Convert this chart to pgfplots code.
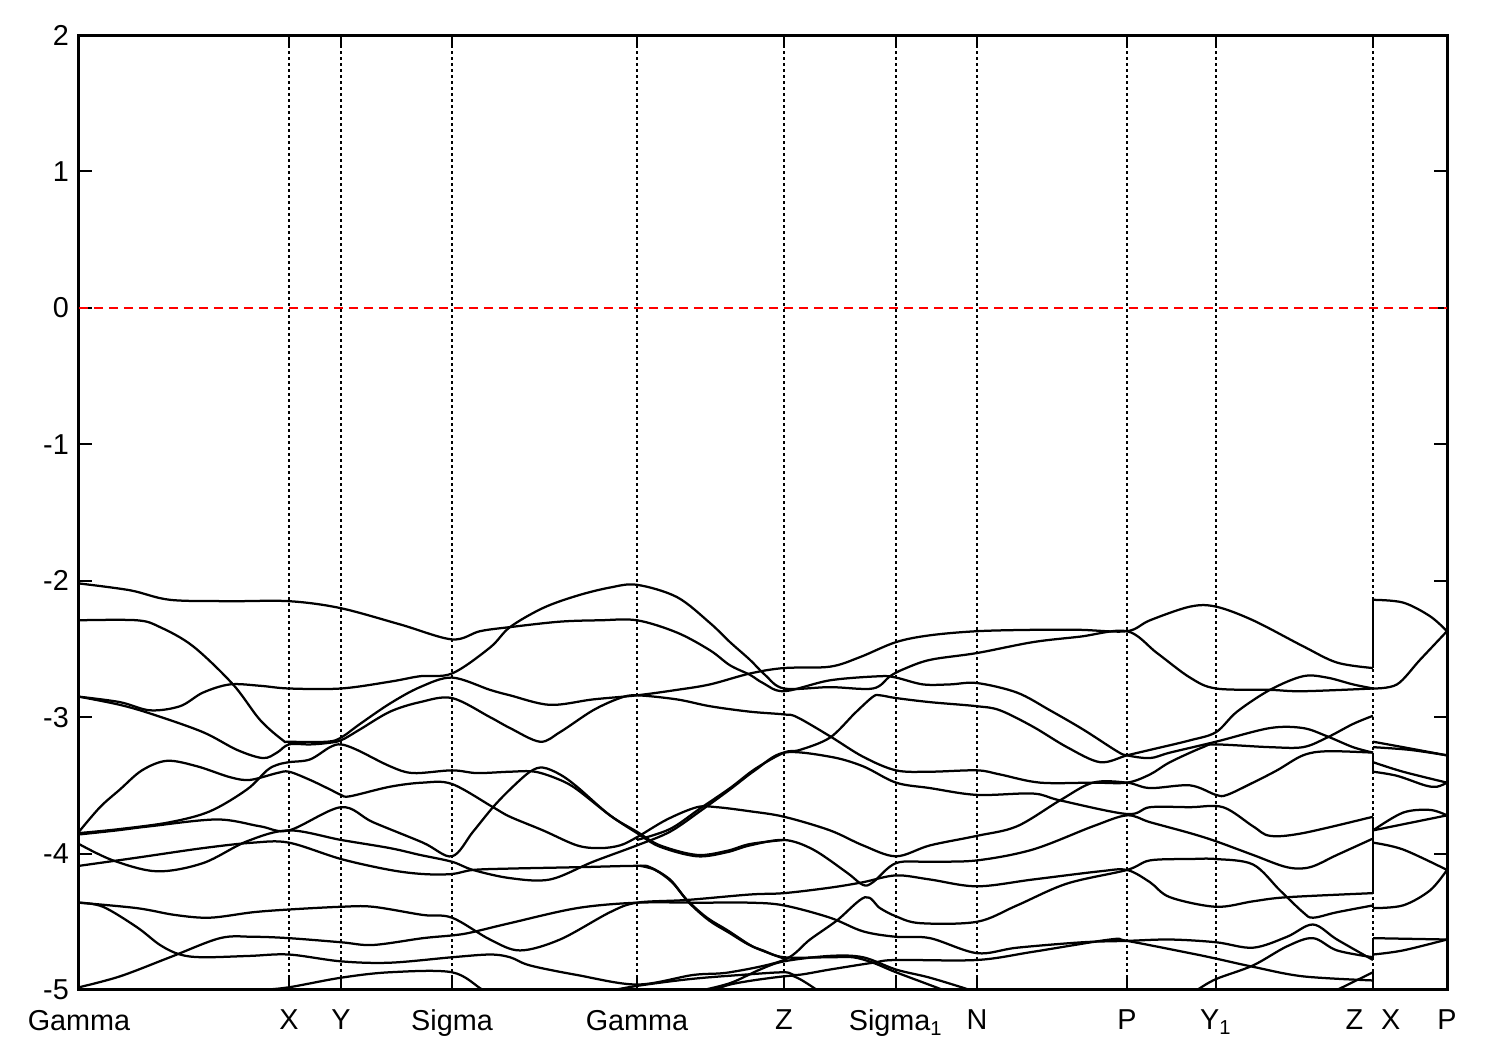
\documentclass[border=0pt]{standalone}
\usepackage{fontspec}
\setmainfont{Liberation Sans}
\usepackage{pgfplots}
\pgfplotsset{compat=1.18}
\pgfplotsset{band/.style={black, solid, line width=0.75pt, mark=none, line join=round, smooth, tension=0.55}}
\begin{document}
\fontsize{9.6}{11.5}\selectfont
\begin{tikzpicture}
\useasboundingbox (0,0) rectangle (500pt,350pt);
\begin{axis}[
  at={(26.33pt,20pt)}, anchor=south west,
  scale only axis, width=456pt, height=318.33pt,
  xmin=79, xmax=1447, ymin=-5, ymax=2,
  xtick={79,289,341,452,637,784,896,977,1127,1216,1373,1447},
  xticklabels={Gamma,X,Y,Sigma,Gamma,Z,Sigma\textsubscript{1},N,P,Y\textsubscript{1},Z\hspace{6pt}X,P},
  ytick={-5,-4,-3,-2,-1,0,1,2},
  yticklabels={-5,-4,-3,-2,-1,0,1,2},
  tick align=inside, tick pos=both, major tick length=4.4pt,
  xmajorgrids,
  major x grid style={black, line width=0.35pt, dash pattern=on 1pt off 1pt},
  axis line style={line width=1pt},
  every tick/.style={black, line width=0.7pt},
  tick label style={font=\fontsize{9.6}{11.5}\selectfont},
  xticklabel style={yshift=-3.3pt},
]
\addplot[red, line width=0.5pt, dash pattern=on 3pt off 2pt, mark=none] coordinates {(79,0)(1447,0)};
% Band A
\addplot[band] coordinates {(79,-2.02) (130,-2.07) (170,-2.14) (230,-2.15) (289,-2.15) (340,-2.20) (400,-2.32) (452,-2.43) (480,-2.37) (510,-2.34) (560,-2.30) (600,-2.29) (637,-2.29) (677,-2.38) (710,-2.51) (730,-2.62) (750,-2.69) (763,-2.75) (784,-2.81) (830,-2.73) (880,-2.70) (896,-2.71) (923,-2.76) (950,-2.76) (977,-2.75) (1017,-2.82) (1050,-2.95) (1083,-3.09) (1117,-3.25) (1127,-3.28) (1150,-3.30) (1170,-3.26) (1216,-3.18) (1270,-3.08) (1303,-3.08) (1327,-3.14) (1353,-3.22) (1373,-3.26)};
% Band B
\addplot[band] coordinates {(79,-2.29) (137,-2.29) (160,-2.34) (193,-2.48) (233,-2.76) (260,-3.02) (283,-3.17) (289,-3.18) (327,-3.18) (341,-3.15) (360,-3.05) (390,-2.90) (420,-2.78) (452,-2.71) (490,-2.80) (510,-2.84) (550,-2.91) (593,-2.87) (637,-2.84) (677,-2.80) (710,-2.76) (750,-2.68) (784,-2.64) (830,-2.63) (860,-2.56) (896,-2.45) (930,-2.40) (977,-2.37) (1033,-2.36) (1080,-2.36) (1127,-2.37) (1150,-2.29) (1190,-2.19) (1216,-2.19) (1253,-2.29) (1303,-2.48) (1337,-2.60) (1373,-2.64)};
% Band C
\addplot[band] coordinates {(79,-2.85) (120,-2.89) (150,-2.95) (180,-2.92) (203,-2.82) (230,-2.76) (260,-2.77) (289,-2.79) (341,-2.79) (390,-2.74) (420,-2.70) (452,-2.68) (490,-2.49) (510,-2.34) (543,-2.20) (577,-2.11) (610,-2.05) (637,-2.03) (677,-2.12) (710,-2.31) (730,-2.45) (750,-2.58) (765,-2.69) (784,-2.79) (830,-2.78) (873,-2.79) (890,-2.70) (903,-2.65) (930,-2.58) (977,-2.53) (1033,-2.45) (1080,-2.41) (1127,-2.37) (1157,-2.53) (1190,-2.71) (1216,-2.79) (1270,-2.80) (1303,-2.81) (1373,-2.79)};
% Band D
\addplot[band] coordinates {(79,-2.85) (120,-2.91) (153,-2.98) (203,-3.11) (237,-3.24) (263,-3.30) (277,-3.26) (289,-3.20) (310,-3.20) (327,-3.19) (341,-3.17) (360,-3.09) (390,-2.96) (420,-2.89) (452,-2.86) (490,-3.00) (510,-3.08) (540,-3.18) (560,-3.11) (593,-2.95) (620,-2.86) (637,-2.84) (677,-2.87) (710,-2.92) (750,-2.96) (784,-2.98) (797,-3.00) (830,-3.14) (863,-3.29) (896,-3.39) (930,-3.40) (977,-3.39) (1000,-3.42) (1040,-3.48) (1093,-3.48) (1127,-3.48) (1150,-3.42) (1170,-3.33) (1203,-3.22) (1216,-3.20) (1270,-3.22) (1303,-3.22) (1327,-3.15) (1353,-3.05) (1373,-2.99)};
% Band E
\addplot[band] coordinates {(79,-3.84) (100,-3.66) (120,-3.53) (142,-3.39) (167,-3.32) (197,-3.36) (230,-3.44) (250,-3.46) (277,-3.41) (289,-3.40) (310,-3.46) (330,-3.53) (341,-3.57) (350,-3.58) (390,-3.51) (423,-3.48) (452,-3.49) (493,-3.66) (510,-3.73) (543,-3.83) (577,-3.94) (600,-3.96) (620,-3.94) (637,-3.88) (667,-3.75) (697,-3.66) (717,-3.66) (750,-3.69) (784,-3.73) (830,-3.83) (863,-3.94) (896,-4.02) (930,-3.94) (977,-3.87) (1017,-3.80) (1060,-3.61) (1093,-3.48) (1127,-3.48) (1150,-3.52) (1190,-3.50) (1216,-3.57) (1227,-3.57) (1253,-3.48) (1277,-3.39) (1303,-3.28) (1327,-3.25) (1373,-3.26)};
% Band F
\addplot[band] coordinates {(79,-3.85) (120,-3.82) (170,-3.77) (210,-3.69) (247,-3.53) (267,-3.39) (277,-3.35) (289,-3.33) (310,-3.31) (330,-3.22) (341,-3.20) (357,-3.24) (390,-3.36) (413,-3.41) (452,-3.39) (477,-3.41) (510,-3.40) (535,-3.40) (560,-3.46) (577,-3.53) (610,-3.72) (637,-3.85) (660,-3.95) (697,-4.02) (727,-3.99) (750,-3.94) (784,-3.90) (813,-3.97) (847,-4.14) (863,-4.23) (873,-4.21) (896,-4.07) (930,-4.06) (977,-4.05) (1033,-3.97) (1093,-3.80) (1127,-3.72) (1150,-3.77) (1190,-3.85) (1216,-3.91) (1253,-4.01) (1287,-4.10) (1310,-4.10) (1337,-4.01) (1373,-3.89)};
% Band G
\addplot[band] coordinates {(79,-3.86) (117,-3.83) (150,-3.80) (217,-3.75) (260,-3.80) (289,-3.83) (341,-3.66) (373,-3.77) (423,-3.92) (452,-4.02) (473,-3.84) (493,-3.66) (510,-3.53) (530,-3.40) (543,-3.37) (560,-3.42) (577,-3.51) (610,-3.72) (637,-3.84) (660,-3.94) (697,-4.01) (727,-3.98) (750,-3.93) (784,-3.90)};
% Band H
\addplot[band] coordinates {(79,-3.93) (113,-4.05) (157,-4.13) (203,-4.07) (247,-3.91) (289,-3.83) (341,-3.90) (390,-3.96) (420,-4.01) (452,-4.06) (473,-4.12) (510,-4.18) (550,-4.19) (593,-4.06) (637,-3.94) (670,-3.84) (700,-3.69) (730,-3.53) (755,-3.39) (784,-3.26) (830,-3.29) (863,-3.36) (896,-3.48) (930,-3.52) (977,-3.57) (1033,-3.56) (1060,-3.61) (1127,-3.71) (1150,-3.66) (1190,-3.66) (1223,-3.66) (1253,-3.80) (1270,-3.87) (1303,-3.85) (1373,-3.73)};
% Band H2
\addplot[band] coordinates {(637,-3.90) (670,-3.82) (700,-3.67) (730,-3.52) (755,-3.38) (784,-3.26) (800,-3.24) (830,-3.15) (855,-2.97) (873,-2.85) (880,-2.84) (896,-2.86) (930,-2.89) (977,-2.92) (1000,-2.95) (1033,-3.07) (1067,-3.22) (1100,-3.33) (1127,-3.28) (1150,-3.24) (1190,-3.17) (1216,-3.11) (1237,-2.96) (1270,-2.80) (1303,-2.70) (1327,-2.71) (1353,-2.76) (1373,-2.79)};
% Band I
\addplot[band] coordinates {(79,-4.09) (137,-4.03) (203,-3.96) (253,-3.92) (289,-3.92) (341,-4.04) (390,-4.12) (423,-4.15) (452,-4.15) (473,-4.12) (510,-4.11) (577,-4.10) (637,-4.09) (650,-4.10) (670,-4.19) (687,-4.34) (707,-4.47) (727,-4.56) (750,-4.67) (763,-4.71) (784,-4.76) (830,-4.76) (853,-4.76) (873,-4.80) (896,-4.87) (943,-5.00) (950,-5.03)};
% Band I2
\addplot[band] coordinates {(640,-4.09) (655,-4.12) (672,-4.21) (689,-4.36) (709,-4.49) (729,-4.58) (752,-4.68) (784,-4.77)};
% Band K
\addplot[band] coordinates {(79,-4.36) (103,-4.39) (137,-4.54) (160,-4.67) (180,-4.74) (203,-4.76) (250,-4.75) (289,-4.74) (341,-4.79) (390,-4.80) (452,-4.76) (490,-4.74) (510,-4.76) (530,-4.82) (577,-4.89) (637,-4.96) (693,-4.89) (730,-4.87) (784,-4.78) (810,-4.63) (837,-4.49) (865,-4.32) (880,-4.40) (896,-4.46) (920,-4.51) (977,-4.50) (1017,-4.38) (1067,-4.22) (1127,-4.12) (1150,-4.05) (1190,-4.04) (1216,-4.04) (1253,-4.08) (1280,-4.27) (1303,-4.43) (1313,-4.47) (1337,-4.43) (1373,-4.38)};
% Band J
\addplot[band] coordinates {(79,-4.36) (137,-4.40) (175,-4.45) (210,-4.47) (253,-4.43) (289,-4.41) (341,-4.39) (373,-4.39) (423,-4.45) (452,-4.47) (490,-4.63) (520,-4.71) (560,-4.63) (610,-4.43) (637,-4.36) (687,-4.34) (750,-4.30) (784,-4.29) (830,-4.25) (863,-4.21) (896,-4.16) (930,-4.19) (977,-4.24) (1033,-4.19) (1100,-4.13) (1127,-4.12) (1150,-4.21) (1170,-4.32) (1216,-4.39) (1253,-4.35) (1287,-4.32) (1373,-4.29)};
% Band L
\addplot[band] coordinates {(79,-4.98) (120,-4.90) (170,-4.76) (220,-4.62) (253,-4.61) (289,-4.62) (341,-4.65) (373,-4.67) (423,-4.62) (452,-4.60) (470,-4.58) (510,-4.51) (577,-4.40) (637,-4.36) (700,-4.36) (750,-4.36) (784,-4.38) (830,-4.47) (863,-4.57) (896,-4.61) (930,-4.62) (977,-4.73) (1017,-4.69) (1083,-4.65) (1127,-4.64) (1170,-4.63) (1216,-4.65) (1253,-4.69) (1287,-4.61) (1313,-4.52) (1337,-4.63) (1373,-4.78)};
% Band N
\addplot[band] coordinates {(600,-5.02) (637,-4.97) (690,-4.92) (740,-4.89) (784,-4.87) (797,-4.89) (830,-4.85) (873,-4.80) (896,-4.78) (977,-4.78) (1033,-4.72) (1110,-4.63) (1127,-4.64) (1190,-4.73) (1216,-4.77) (1253,-4.83) (1303,-4.90) (1373,-4.93)};
% lower bands partly below the window
\addplot[band] coordinates {(697,-5.01) (730,-4.95) (760,-4.85) (784,-4.79) (830,-4.75) (863,-4.76) (896,-4.85) (930,-4.91) (970,-5.00) (980,-5.03)};
\addplot[band] coordinates {(700,-5.05) (730,-4.96) (784,-4.90) (797,-4.91) (817,-5.00) (825,-5.05)};
\addplot[band] coordinates {(79,-4.99) (110,-5.05)};
\addplot[band] coordinates {(230,-5.01) (260,-5.00) (289,-4.98) (341,-4.91) (390,-4.87) (452,-4.87) (483,-5.00) (500,-5.05)};
\addplot[band] coordinates {(1190,-5.03) (1197,-5.00) (1216,-4.92) (1253,-4.82) (1287,-4.68) (1313,-4.62) (1337,-4.71) (1373,-4.76)};
\addplot[band] coordinates {(1330,-5.03) (1337,-5.00) (1373,-4.87)};
% X - P segment (with the jumps at Z|X)
\addplot[band, sharp plot] coordinates {(1373,-2.64) (1373,-2.14)};
\addplot[band] coordinates {(1373,-2.14) (1403,-2.16) (1430,-2.26) (1447,-2.37)};
\addplot[band] coordinates {(1373,-2.79) (1397,-2.76) (1420,-2.58) (1447,-2.37)};
\addplot[band] coordinates {(1373,-3.18) (1403,-3.22) (1447,-3.28)};
\addplot[band] coordinates {(1373,-3.22) (1410,-3.24) (1447,-3.28)};
\addplot[band, sharp plot] coordinates {(1373,-3.26) (1373,-3.40)};
\addplot[band] coordinates {(1373,-3.33) (1403,-3.40) (1447,-3.48)};
\addplot[band] coordinates {(1373,-3.40) (1397,-3.43) (1425,-3.50) (1437,-3.51) (1447,-3.48)};
\addplot[band, sharp plot] coordinates {(1373,-3.73) (1373,-4.29)};
\addplot[band] coordinates {(1373,-3.83) (1403,-3.70) (1430,-3.68) (1447,-3.72)};
\addplot[band] coordinates {(1373,-3.83) (1447,-3.72)};
\addplot[band] coordinates {(1373,-3.92) (1403,-3.97) (1447,-4.12)};
\addplot[band, sharp plot] coordinates {(1373,-4.38) (1373,-4.40)};
\addplot[band] coordinates {(1373,-4.40) (1403,-4.38) (1430,-4.27) (1447,-4.12)};
\addplot[band, sharp plot] coordinates {(1373,-4.62) (1373,-4.78)};
\addplot[band] coordinates {(1373,-4.62) (1447,-4.63)};
\addplot[band] coordinates {(1373,-4.74) (1403,-4.71) (1447,-4.63)};
\addplot[band, sharp plot] coordinates {(1373,-4.87) (1373,-5.05)};
\end{axis}
\end{tikzpicture}
\end{document}
